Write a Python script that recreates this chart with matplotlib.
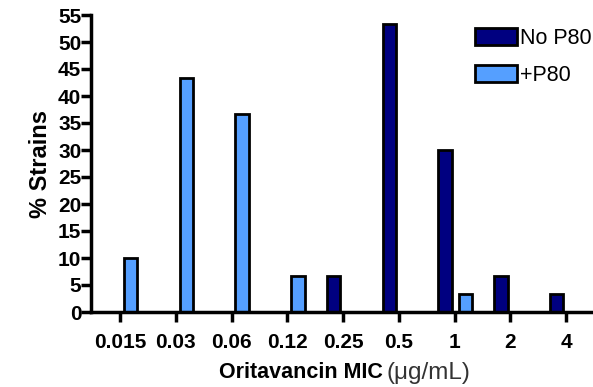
import numpy as np
import matplotlib.pyplot as plt

plt.rcParams['font.family'] = ['Liberation Sans', 'DejaVu Sans']

# MIC distribution, % of strains per dilution
mic_labels = ["0.015", "0.03", "0.06", "0.12", "0.25", "0.5", "1", "2", "4"]
no_p80 = [0, 0, 0, 0, 6.7, 53.3, 30.0, 6.7, 3.3]
plus_p80 = [10.0, 43.3, 36.7, 6.7, 0, 0, 3.3, 0, 0]
y_ticks = list(range(0, 56, 5))

dark = '#000080'
light = '#559FFF'

fig = plt.figure(figsize=(5.93, 3.87), dpi=100)
ax = fig.add_axes([91 / 593, 75 / 387, 1 - 91 / 593, 297 / 387])

x = np.arange(len(mic_labels))
w = 0.24
ax.bar(x - 0.17, no_p80, width=w, color=dark, edgecolor='black', linewidth=2,
       label='No P80', zorder=3)
ax.bar(x + 0.19, plus_p80, width=w, color=light, edgecolor='black', linewidth=2,
       label='+P80', zorder=3)

ax.set_xlim(-0.52, 8.48)
ax.set_ylim(0, 55)
ax.set_yticks(y_ticks)
ax.set_xticks(x)
ax.set_xticklabels(mic_labels)

for side in ['top', 'right']:
    ax.spines[side].set_visible(False)
for side in ['left', 'bottom']:
    ax.spines[side].set_linewidth(2.5)
    ax.spines[side].set_zorder(4)

ax.tick_params(axis='both', direction='out', width=2.5, length=7, labelsize=15)
ax.tick_params(axis='x', pad=8)
ax.tick_params(axis='y', pad=0)
for lbl in ax.get_xticklabels() + ax.get_yticklabels():
    lbl.set_fontweight('bold')

ax.set_ylabel('% Strains', fontsize=17, fontweight='bold', labelpad=4)

fig.text(383 / 593, 14 / 387, 'Oritavancin MIC', fontsize=15.5, fontweight='bold',
         ha='right', va='center')
fig.text(387 / 593, 14 / 387, '(\u03bcg/mL)', fontsize=17.5, color='#333333',
         ha='left', va='center')

leg = ax.legend(loc='upper right', bbox_to_anchor=(1.022, 1.0), frameon=False, fontsize=15.5,
                handlelength=1.95, handleheight=0.85, handletextpad=0.1, labelspacing=0.75,
                borderaxespad=0.2)
for h in leg.legend_handles:
    h.set_linewidth(2)

fig.savefig('out.png', dpi=100)
